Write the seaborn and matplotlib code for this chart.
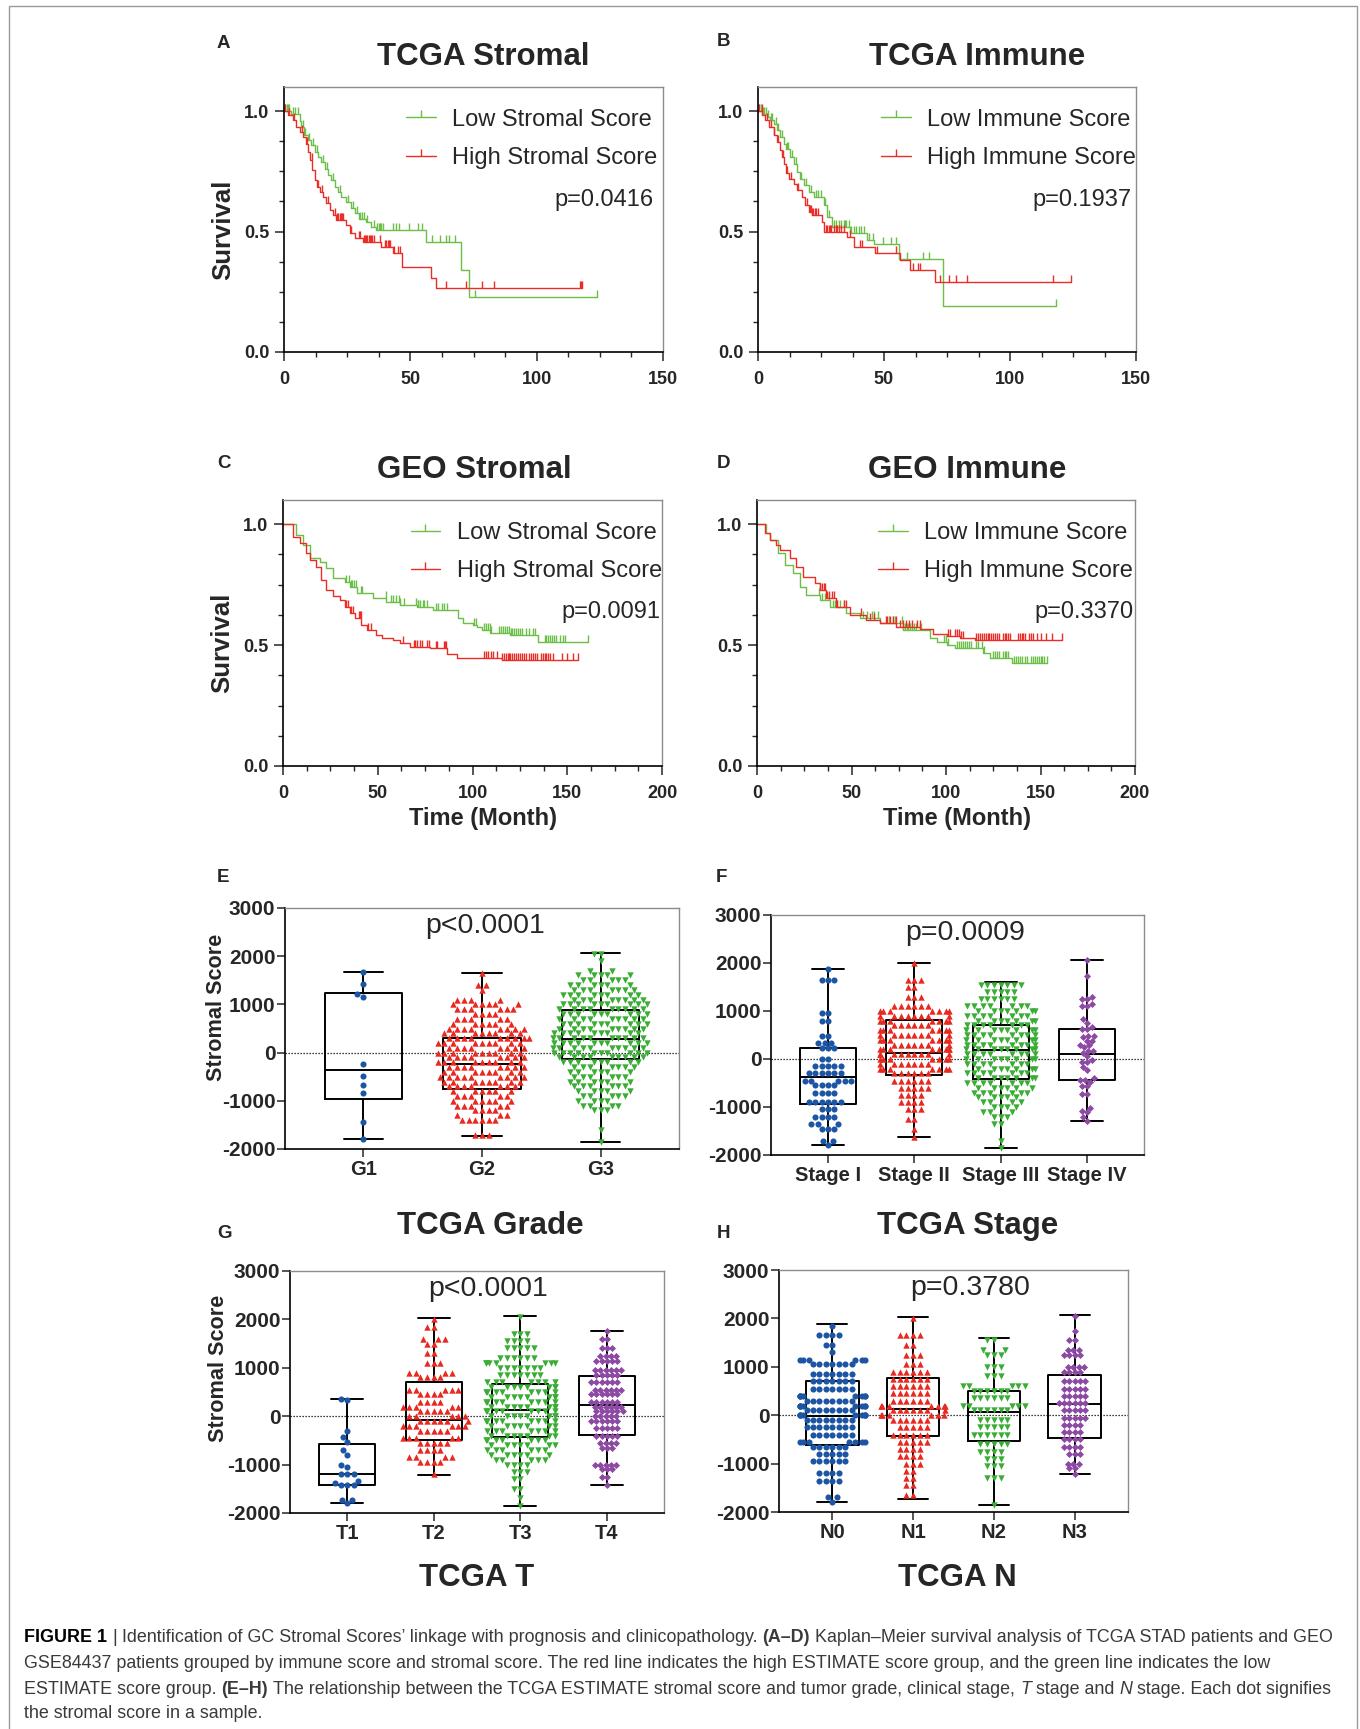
import warnings
import numpy as np
import matplotlib
matplotlib.use("Agg")
import matplotlib.pyplot as plt
import seaborn as sns
from matplotlib.lines import Line2D
from matplotlib.patches import Rectangle

warnings.filterwarnings("ignore")

# ---------------- Kaplan-Meier data ----------------
# panel A: TCGA stromal
a_low_t = [0, 2.9, 6.2, 6.9, 7.8, 9.5, 10.8, 12.1, 13.5, 14.8, 16.1, 17.4, 18.7, 20.1, 21.4, 22.7,
           24.7, 26.6, 28.0, 29.7, 32.6, 34.6, 36.5, 56.3, 70.2, 73.2]
a_low_s = [1.0, 0.99, 0.96, 0.934, 0.90, 0.879, 0.858, 0.83, 0.81, 0.789, 0.761, 0.734, 0.713, 0.686,
           0.665, 0.644, 0.623, 0.596, 0.575, 0.554, 0.541, 0.52, 0.506, 0.458, 0.341, 0.23]
a_low_end = 124
a_low_cens = [0.5, 1, 1.5, 2, 3.5, 4.5, 5.5, 7.5, 8.5, 10, 11.5, 13, 15.5, 17, 19.5, 22, 25.5, 27.5,
              29, 30, 31, 31.5, 33, 35.5, 37, 37.5, 38, 38.5, 39, 43.1, 44.4, 45.7, 49.6, 53, 54.7,
              58.7, 61.6, 64.2, 65.3, 67.5, 75.5, 124]
a_high_t = [0, 1.6, 3.6, 4.9, 6.2, 7.5, 8.8, 9.5, 10.2, 11.2, 12.1, 13.1, 14.1, 15.4, 16.8, 18.1,
            19.4, 20.7, 24.7, 26.0, 28.0, 31.3, 38.5, 43.1, 46.8, 58.0, 60.3]
a_high_s = [1.0, 0.982, 0.961, 0.934, 0.913, 0.892, 0.865, 0.83, 0.796, 0.754, 0.713, 0.686, 0.665,
            0.644, 0.617, 0.589, 0.568, 0.548, 0.527, 0.492, 0.472, 0.458, 0.437, 0.41, 0.352,
            0.306, 0.265]
a_high_end = 118.1
a_high_cens = [0.5, 2, 4, 7, 9, 11, 13.5, 15, 17.5, 20, 21, 21.5, 22, 22.5, 23, 23.5, 26.5, 29.5,
               30, 31.5, 32, 32.5, 33, 33.5, 34, 34.5, 35, 35.5, 38, 40, 40.5, 41, 41.5, 42, 43.5,
               45, 46, 64, 72.2, 78.2, 83, 117, 117.5, 118.1]

# panel B: TCGA immune
b_low_t = [0, 1.6, 3.6, 4.9, 6.2, 7.5, 8.9, 10.2, 11.2, 12.8, 14.1, 15.5, 16.8, 18.1, 20.1, 22.1,
           26.0, 27.4, 29.3, 36.6, 43.2, 45.9, 56.0, 73.3]
b_low_s = [1.0, 0.989, 0.975, 0.961, 0.948, 0.92, 0.892, 0.865, 0.844, 0.81, 0.782, 0.748, 0.72,
           0.692, 0.665, 0.644, 0.61, 0.561, 0.52, 0.492, 0.465, 0.448, 0.385, 0.192]
b_low_end = 118.3
b_low_cens = [0.5, 1, 2, 2.5, 3, 4, 5, 5.5, 7, 8, 9.5, 11.5, 12, 13.5, 15, 17, 19, 21, 23, 24, 25,
              26.5, 28, 30, 31, 32, 33, 34, 34.5, 35, 36, 37, 38, 39, 40, 41, 42, 44, 45.5, 49.6,
              52.9, 54.9, 59, 65.4, 67.7, 118.3]
b_high_t = [0, 1.6, 2.9, 4.2, 6.2, 7.5, 8.9, 9.5, 10.2, 11.2, 12.2, 14.1, 15.5, 17.4, 18.8, 20.1,
            21.4, 25.4, 26.3, 35.3, 37.9, 46.5, 56.4, 60.4, 70.3]
b_high_s = [1.0, 0.982, 0.961, 0.934, 0.899, 0.872, 0.837, 0.81, 0.782, 0.741, 0.72, 0.699, 0.672,
            0.644, 0.61, 0.582, 0.568, 0.54, 0.5, 0.479, 0.437, 0.412, 0.382, 0.341, 0.292]
b_high_end = 124.2
b_high_cens = [0.5, 1.5, 3.5, 5, 6.5, 8, 9.8, 11.5, 13, 16, 19.5, 20.5, 21, 21.5, 22, 22.5, 23, 24,
               26.8, 27.5, 28, 28.5, 29, 30, 31, 31.5, 32, 33, 34, 36.5, 40.6, 41.2, 47.2, 54.8,
               61.7, 63.3, 64.4, 72.3, 75.6, 78.4, 83.1, 117.2, 124.2]

# panel C: GEO stromal
c_low_t = [0, 7, 10.6, 14.1, 19.4, 22.9, 26.4, 32.6, 35.2, 38.8, 47.6, 54.6, 61.7, 70.5, 79.3, 92.5,
           95.2, 100.4, 102.2, 104.8, 109.3, 119.8, 134.8]
c_low_s = [1.0, 0.956, 0.914, 0.859, 0.845, 0.818, 0.776, 0.762, 0.742, 0.714, 0.693, 0.68, 0.666,
           0.659, 0.645, 0.61, 0.59, 0.583, 0.576, 0.562, 0.551, 0.541, 0.514]
c_low_end = 160.9
c_low_cens = [33.5, 35, 36, 36.5, 37.5, 38.5, 41, 41.5, 54.5, 57, 58, 59.5, 61, 62, 64, 70, 71, 71.5,
              72.5, 74, 74.5, 76, 81, 82, 84, 85, 86.5, 101, 102, 106, 107, 108, 109, 110, 114, 115,
              116, 117, 118, 119, 120.5, 121, 122, 123, 124, 125, 126, 128, 130, 132, 133, 138, 139,
              140, 141, 142, 143, 144, 146, 148, 149, 160.9]
c_high_t = [0, 5.3, 8.8, 12.3, 14.1, 17.6, 20.3, 22.9, 26.4, 30, 32.6, 35.2, 37.9, 41.4, 44.1, 49.3,
            52, 58.1, 61.7, 67, 77.5, 86.3, 91.6, 115.4]
c_high_s = [1.0, 0.949, 0.921, 0.88, 0.852, 0.824, 0.769, 0.728, 0.703, 0.686, 0.659, 0.634, 0.61,
            0.583, 0.562, 0.541, 0.528, 0.521, 0.507, 0.493, 0.486, 0.463, 0.448, 0.438]
c_high_end = 155.6
c_high_cens = [33.5, 34.5, 36, 37, 40, 40.5, 41, 45, 46.5, 63.5, 69, 69.5, 70.5, 72.5, 73.5, 76, 77,
               81, 81.5, 85, 85.5, 86, 106, 107, 108, 110, 111, 113, 115.5, 116.5, 117.5, 118.5,
               119, 120, 121, 122, 123, 124, 125, 126, 127, 128, 130, 131, 132, 133, 134, 136, 137,
               138, 139, 140, 141, 142.5, 147, 150, 153, 155.6]

# panel D: GEO immune
d_low_t = [0, 4.9, 6.7, 11.1, 14.7, 19.1, 22.6, 26.1, 33.2, 38.5, 47.3, 54.4, 65, 77.3, 91.4, 95,
           100.3, 104.7, 119.7, 123.2, 134.7]
d_low_s = [1.0, 0.963, 0.935, 0.88, 0.831, 0.797, 0.742, 0.707, 0.686, 0.659, 0.634, 0.61, 0.59,
           0.562, 0.528, 0.514, 0.5, 0.486, 0.468, 0.445, 0.424]
d_low_end = 153.2
d_low_cens = [33, 34.5, 36, 38, 40, 41.5, 42.5, 44, 46, 56, 58, 61, 62, 64, 70, 72, 73, 76.5, 77.5,
              78.5, 79.5, 80, 81, 82, 83, 84, 86, 87, 99, 100, 101, 106, 107, 108, 109, 110, 111,
              112, 113, 116, 117, 119, 120, 125, 126, 127, 128, 130, 131, 132, 133, 136, 137, 138,
              139, 140, 142, 143, 145, 146, 147, 148, 149, 150, 151, 152, 153.2]
d_high_t = [0, 4, 6.7, 10.2, 12, 17.3, 20.8, 24.4, 30.5, 33.2, 36.7, 42, 49.1, 57.9, 65, 73.8, 86.1,
            93.2, 100.3, 107.3, 115.3]
d_high_s = [1.0, 0.963, 0.935, 0.914, 0.894, 0.859, 0.824, 0.783, 0.755, 0.728, 0.693, 0.659, 0.624,
            0.603, 0.59, 0.576, 0.565, 0.546, 0.537, 0.528, 0.521]
d_high_end = 161.2
d_high_cens = [33.5, 34.5, 35.5, 36, 37, 38, 39.5, 41, 42.5, 46, 47, 55, 60, 62, 68, 69, 70.5, 72,
               73.5, 75.5, 77, 79, 80.5, 82, 84.5, 86, 101, 102, 105, 106, 107, 108, 109, 116, 117,
               118, 119, 120, 121, 122, 123, 124, 125, 126, 127, 128, 130, 131, 132, 133, 134, 138,
               139, 140, 141, 142, 144, 145, 146, 148, 150, 153, 156, 161.2]

# ---------------- stromal score scatter data ----------------
# box statistics: (min, q1, median, q3, max)
e_cats = ["G1", "G2", "G3"]
e_stats = [(-1793, -966, -359, 1241, 1676), (-1730, -759, -241, 297, 1660), (-1860, -138, 276, 883, 2070)]
f_cats = ["Stage I", "Stage II", "Stage III", "Stage IV"]
f_stats = [(-1790, -947, -372, 230, 1870), (-1620, -324, 133, 819, 2010),
           (-1860, -421, 195, 701, 1600), (-1300, -441, 112, 618, 2070)]
g_cats = ["T1", "T2", "T3", "T4"]
g_stats = [(-1800, -1429, -1195, -569, 350), (-1220, -501, -74, 710, 2020),
           (-1860, -432, 132, 675, 2070), (-1430, -384, 235, 840, 1750)]
h_cats = ["N0", "N1", "N2", "N3"]
h_stats = [(-1790, -607, -10, 703, 1880), (-1730, -428, 138, 772, 2020),
           (-1860, -531, 76, 503, 1590), (-1210, -462, 228, 828, 2070)]

# single points
g1_vals = [1680, 1430, 1210, 1160, -240, -480, -680, -840, -1450, -1790]
stage4_vals = [2070, 1725, 1290, 1255, 1255, 1140, 1100, 1100, 825, 755, 670, 620, 620, 485, 485, 460,
               380, 380, 290, 290, 250, 170, 170, 130, 65, -25, -60, -60, -165, -235, -405, -440, -440,
               -475, -560, -560, -720, -720, -1030, -1080, -1110, -1215, -1290]
t1_vals = [350, 330, -300, -430, -530, -700, -800, -1000, -1050, -1200, -1200, -1200, -1330, -1380,
           -1420, -1420, -1420, -1730, -1730, -1800]

# rows of points: score level and number of samples at that level
g2_levels = [1650, 1400, 1300, 1100, 1000, 900, 800, 700, 600, 500, 400, 300, 200, 100, 0, -100, -200,
             -300, -400, -500, -600, -700, -800, -900, -1000, -1100, -1200, -1300, -1400, -1700]
g2_counts = [1, 2, 1, 4, 6, 6, 4, 5, 6, 8, 8, 9, 9, 8, 9, 8, 9, 8, 8, 9, 8, 7, 6, 5, 6, 5, 4, 3, 6, 3]
g3_levels = [2050, 1900, 1700, 1600, 1500, 1400, 1300, 1200, 1100, 1000, 900, 800, 700, 600, 500, 400,
             300, 200, 100, 0, -100, -200, -300, -400, -500, -600, -700, -800, -900, -1000, -1100,
             -1200, -1600, -1850]
g3_counts = [2, 1, 2, 5, 5, 6, 7, 8, 8, 9, 9, 9, 9, 9, 9, 9, 10, 10, 10, 10, 9, 8, 7, 6, 6, 6, 6, 5,
             5, 4, 4, 3, 1, 1]
stage1_levels = [1870, 1650, 950, 800, 480, 330, 220, 0, -150, -300, -450, -550, -700, -900, -1050,
                 -1200, -1350, -1450, -1700, -1790]
stage1_counts = [1, 3, 2, 2, 2, 3, 3, 2, 5, 6, 5, 4, 4, 6, 3, 4, 3, 3, 2, 1]
stage2_levels = [2000, 1650, 1500, 1300, 1100, 1000, 900, 800, 700, 600, 500, 400, 300, 200, 100, 0,
                 -100, -200, -300, -450, -600, -750, -900, -1050, -1250, -1450, -1620]
stage2_counts = [1, 3, 2, 3, 6, 7, 8, 7, 6, 7, 8, 7, 7, 8, 9, 7, 7, 7, 6, 6, 5, 4, 4, 3, 2, 1, 1]
stage3_levels = [1550, 1400, 1250, 1100, 1000, 900, 800, 700, 600, 500, 400, 300, 200, 100, 0, -100,
                 -200, -300, -400, -500, -600, -700, -800, -900, -1000, -1100, -1200, -1350, -1700, -1860]
stage3_counts = [7, 5, 6, 7, 7, 7, 7, 7, 8, 8, 8, 8, 8, 8, 8, 7, 7, 7, 7, 7, 6, 6, 5, 4, 4, 3, 3, 2, 1, 1]
t2_levels = [2000, 1850, 1600, 1500, 1300, 1100, 900, 800, 550, 450, 300, 200, 100, 0, -100, -200,
             -300, -450, -550, -700, -850, -950, -1200]
t2_counts = [1, 2, 3, 2, 2, 3, 4, 4, 5, 4, 4, 5, 5, 5, 6, 6, 5, 5, 5, 4, 4, 4, 1]
t3_levels = [2050, 1700, 1550, 1400, 1200, 1100, 1000, 850, 700, 600, 500, 400, 300, 200, 100, 0, -100,
             -200, -300, -400, -500, -600, -700, -800, -900, -1000, -1150, -1300, -1500, -1700, -1860]
t3_counts = [1, 3, 4, 5, 6, 7, 7, 7, 7, 8, 8, 8, 8, 8, 8, 8, 8, 7, 7, 7, 7, 7, 6, 6, 5, 4, 3, 2, 2, 1, 1]
t4_levels = [1750, 1600, 1400, 1250, 1150, 950, 850, 700, 550, 450, 300, 200, 100, 0, -100, -250, -400,
             -550, -650, -1000, -1100, -1250, -1430]
t4_counts = [1, 2, 3, 4, 5, 6, 5, 6, 6, 6, 6, 6, 6, 5, 6, 5, 5, 4, 3, 5, 3, 2, 1]
n0_levels = [1850, 1650, 1450, 1300, 1150, 1050, 850, 700, 550, 400, 300, 200, 100, 0, -100, -250, -400,
             -550, -650, -800, -950, -1200, -1350, -1700, -1790]
n0_counts = [1, 4, 2, 1, 6, 7, 7, 7, 7, 8, 8, 8, 8, 9, 8, 8, 7, 7, 6, 5, 6, 4, 4, 2, 1]
n1_levels = [2000, 1650, 1450, 1250, 1050, 900, 750, 600, 450, 300, 200, 100, 0, -100, -250, -400, -550,
             -700, -850, -1000, -1150, -1300, -1450, -1650]
n1_counts = [1, 4, 2, 3, 3, 6, 6, 6, 6, 6, 7, 7, 6, 6, 5, 6, 5, 4, 4, 3, 2, 2, 2, 2]
n2_levels = [1550, 1350, 1250, 1000, 800, 600, 500, 350, 200, 100, -100, -250, -400, -600, -750, -900,
             -1050, -1300, -1860]
n2_counts = [2, 2, 3, 3, 3, 5, 6, 6, 5, 6, 5, 5, 6, 5, 4, 3, 3, 3, 1]
n3_levels = [2050, 1750, 1550, 1350, 1250, 1000, 900, 700, 550, 400, 250, 100, -50, -200, -350, -500,
             -650, -800, -1000, -1100, -1210]
n3_counts = [1, 1, 2, 3, 4, 4, 4, 5, 5, 5, 6, 5, 5, 4, 4, 4, 4, 3, 3, 2, 1]

KM_GREEN = "#6cbf46"
KM_RED = "#ea2d26"
DOT_COLORS = ["#1d55a5", "#e8291f", "#3bad37", "#8d4aa3"]
DOT_MARKERS = ["o", "^", "v", "D"]
DOT_SIZES = [4.4, 4.6, 4.6, 3.6]

W, H = 1360, 1729

sns.set_style("ticks")
plt.rcParams["font.family"] = ["Liberation Sans", "DejaVu Sans"]
plt.rcParams["axes.linewidth"] = 1.1
plt.rcParams["axes.unicode_minus"] = False

fig = plt.figure(figsize=(W / 100, H / 100), dpi=100)


def add_ax(l, t, r, b):
    return fig.add_axes([l / W, 1 - b / H, (r - l) / W, (b - t) / H])


def ftext(x, y, s, **kw):
    return fig.text(x / W, 1 - y / H, s, **kw)


def frame(ax):
    for side in ["left", "bottom"]:
        ax.spines[side].set_color("black")
        ax.spines[side].set_linewidth(1.2)
    for side in ["top", "right"]:
        ax.spines[side].set_visible(True)
        ax.spines[side].set_color("#8c8c8c")
        ax.spines[side].set_linewidth(1.0)
    ax.set_xlabel("")
    ax.set_ylabel("")


def km_curve(ax, t, s, t_end, cens, color):
    tt = np.append(t, t_end)
    ss = np.append(s, s[-1])
    sns.lineplot(x=tt, y=ss, drawstyle="steps-post", color=color, lw=1.0, ax=ax, estimator=None, sort=False)
    idx = np.searchsorted(t, cens, side="right") - 1
    ax.plot(cens, np.asarray(s)[idx], ls="none", marker=2, ms=5, mew=1.0, color=color)


def km_panel(ax, curves, labels, pval, xmax, leg_x, p_x, p_y):
    for (t, s, te, c), col in zip(curves, [KM_GREEN, KM_RED]):
        km_curve(ax, t, s, te, c, col)
    ax.set_xlim(0, xmax)
    ax.set_ylim(0, 1.1)
    ax.set_xticks(np.arange(0, xmax + 1, 50))
    ax.set_xticks(np.arange(0, xmax + 1, 12.5), minor=True)
    ax.set_yticks([0, 0.5, 1.0])
    ax.set_yticklabels(["0.0", "0.5", "1.0"])
    ax.set_yticks(np.arange(0, 1.01, 0.125), minor=True)
    ax.tick_params(which="major", length=6.5, width=1.1, labelsize=13, pad=4)
    ax.tick_params(axis="x", which="major", pad=7.5)
    ax.tick_params(which="minor", length=3.3, width=1.0)
    for lab in ax.get_xticklabels() + ax.get_yticklabels():
        lab.set_fontweight("bold")
    frame(ax)
    handles = [Line2D([0], [0], color=c, lw=1.0, marker=2, ms=5, mew=1.0) for c in [KM_GREEN, KM_RED]]
    ax.legend(handles, labels, loc="upper right", bbox_to_anchor=(leg_x, 0.918), frameon=False,
              fontsize=17, handlelength=1.25, handletextpad=0.7, labelspacing=0.68, borderpad=0,
              borderaxespad=0, numpoints=1)
    ax.text(p_x, p_y, pval, transform=ax.transAxes, ha="right", va="center", fontsize=17)


def box_panel(ax, cats, groups, stats, pval, p_x, capw):
    n = len(cats)
    for i, vals in enumerate(groups):
        sns.swarmplot(x=[cats[i]] * len(vals), y=vals, order=cats, color=DOT_COLORS[i],
                      marker=DOT_MARKERS[i], size=DOT_SIZES[i], linewidth=0, ax=ax, zorder=3)
    bstats = [dict(whislo=a, q1=b, med=c, q3=d, whishi=e, fliers=[]) for a, b, c, d, e in stats]
    lp = dict(color="black", lw=1.4)
    ax.bxp(bstats, positions=range(n), widths=0.65, capwidths=capw, showfliers=False,
           manage_ticks=False, boxprops=lp, whiskerprops=lp, capprops=lp, medianprops=lp, zorder=2)
    ax.axhline(0, color="black", ls=(0, (1, 1.4)), lw=0.9, zorder=1)
    ax.set_ylim(-2000, 3000)
    ax.set_yticks(range(-2000, 3001, 1000))
    ax.set_xlim(-0.66, n - 1 + 0.66)
    ax.set_xticks(range(n))
    ax.set_xticklabels(cats)
    ax.tick_params(axis="y", length=6, width=1.1, labelsize=15, pad=1)
    ax.tick_params(axis="x", length=6, width=1.1, labelsize=14.5, pad=2)
    for lab in ax.get_xticklabels() + ax.get_yticklabels():
        lab.set_fontweight("bold")
    frame(ax)
    ax.text(p_x, 0.925, pval, transform=ax.transAxes, ha="center", va="center", fontsize=20.5)


# ---------------- KM panels ----------------
ax_a = add_ax(284, 87, 663, 352)
km_panel(ax_a, [(a_low_t, a_low_s, a_low_end, a_low_cens), (a_high_t, a_high_s, a_high_end, a_high_cens)],
         ["Low Stromal Score", "High Stromal Score"], "p=0.0416", 150, 0.985, 0.974, 0.572)
ax_b = add_ax(758, 87, 1136, 352)
km_panel(ax_b, [(b_low_t, b_low_s, b_low_end, b_low_cens), (b_high_t, b_high_s, b_high_end, b_high_cens)],
         ["Low Immune Score", "High Immune Score"], "p=0.1937", 150, 1.0, 0.989, 0.572)
ax_c = add_ax(283, 500, 662, 766)
km_panel(ax_c, [(c_low_t, c_low_s, c_low_end, c_low_cens), (c_high_t, c_high_s, c_high_end, c_high_cens)],
         ["Low Stromal Score", "High Stromal Score"], "p=0.0091", 200, 1.0, 0.995, 0.578)
ax_d = add_ax(757, 500, 1135, 766)
km_panel(ax_d, [(d_low_t, d_low_s, d_low_end, d_low_cens), (d_high_t, d_high_s, d_high_end, d_high_cens)],
         ["Low Immune Score", "High Immune Score"], "p=0.3370", 200, 0.995, 0.995, 0.578)

# ---------------- scatter / box panels ----------------
g2_vals = np.repeat(g2_levels, g2_counts)
g3_vals = np.repeat(g3_levels, g3_counts)
ax_e = add_ax(285, 908, 679, 1149)
box_panel(ax_e, e_cats, [g1_vals, g2_vals, g3_vals], e_stats, "p<0.0001", 0.508, 0.33)

ax_f = add_ax(771, 915, 1144, 1155)
box_panel(ax_f, f_cats, [np.repeat(stage1_levels, stage1_counts), np.repeat(stage2_levels, stage2_counts),
                         np.repeat(stage3_levels, stage3_counts), stage4_vals], f_stats, "p=0.0009", 0.52, 0.37)

ax_g = add_ax(290, 1271, 664, 1513)
box_panel(ax_g, g_cats, [t1_vals, np.repeat(t2_levels, t2_counts), np.repeat(t3_levels, t3_counts),
                         np.repeat(t4_levels, t4_counts)], g_stats, "p<0.0001", 0.529, 0.37)

ax_h = add_ax(779, 1270, 1128, 1512)
box_panel(ax_h, h_cats, [np.repeat(n0_levels, n0_counts), np.repeat(n1_levels, n1_counts),
                         np.repeat(n2_levels, n2_counts), np.repeat(n3_levels, n3_counts)],
          h_stats, "p=0.3780", 0.547, 0.37)

# ---------------- titles, labels ----------------
tkw = dict(fontsize=22.5, fontweight="bold", ha="center", va="center")
ftext(483, 57, "TCGA Stromal", **tkw)
ftext(977, 57, "TCGA Immune", **tkw)
ftext(474, 470, "GEO Stromal", **tkw)
ftext(967, 470, "GEO Immune", **tkw)
ftext(490, 1226, "TCGA Grade", **tkw)
ftext(968, 1226, "TCGA Stage", **tkw)
ftext(477, 1578, "TCGA T", **tkw)
ftext(957, 1578, "TCGA N", **tkw)

lkw = dict(fontsize=13.5, fontweight="bold", ha="center", va="center")
for letter, x, y in [("A", 223, 43), ("B", 723, 42), ("C", 224, 463), ("D", 723, 463),
                     ("E", 223, 878), ("F", 721, 878), ("G", 224, 1233), ("H", 723, 1233)]:
    ftext(x, y, letter, **lkw)

ftext(223, 230, "Survival", fontsize=18.5, fontweight="bold", rotation=90, ha="center", va="center")
ftext(222, 643, "Survival", fontsize=18.5, fontweight="bold", rotation=90, ha="center", va="center")
ftext(216, 1007, "Stromal Score", fontsize=15.6, fontweight="bold", rotation=90, ha="center", va="center")
ftext(218, 1368, "Stromal Score", fontsize=15.6, fontweight="bold", rotation=90, ha="center", va="center")
ftext(483, 818, "Time (Month)", fontsize=17, fontweight="bold", ha="center", va="center")
ftext(957, 818, "Time (Month)", fontsize=17, fontweight="bold", ha="center", va="center")

# ---------------- caption ----------------
cap_family = ["Liberation Sans Narrow", "Liberation Sans", "DejaVu Sans"]
cap_size = 12.9
renderer = fig.canvas.get_renderer()


def run_width(s, **kw):
    t = fig.text(0, 0, s, fontsize=cap_size, family=cap_family, **kw)
    w = t.get_window_extent(renderer=renderer).width
    t.remove()
    return w


space_w = run_width("x x") - run_width("xx")


def caption_line(y, runs):
    x = 24
    for s, weight, style, color in runs:
        t = ftext(x, y, s, fontsize=cap_size, family=cap_family, fontweight=weight, style=style,
                  color=color, va="center", ha="left")
        x += t.get_window_extent(renderer=renderer).width + space_w


CAP = "#3a3a3a"
caption_line(1638, [("FIGURE 1", "bold", "normal", "black"), ("|", "normal", "normal", CAP),
                    ("Identification of GC Stromal Scores’ linkage with prognosis and clinicopathology.",
                     "normal", "normal", CAP),
                    ("(A–D)", "bold", "normal", CAP),
                    ("Kaplan–Meier survival analysis of TCGA STAD patients and GEO", "normal", "normal", CAP)])
caption_line(1663, [("GSE84437 patients grouped by immune score and stromal score. The red line indicates the "
                     "high ESTIMATE score group, and the green line indicates the low", "normal", "normal", CAP)])
caption_line(1689, [("ESTIMATE score group.", "normal", "normal", CAP), ("(E–H)", "bold", "normal", CAP),
                    ("The relationship between the TCGA ESTIMATE stromal score and tumor grade, clinical stage,",
                     "normal", "normal", CAP),
                    ("T", "normal", "italic", CAP), ("stage and", "normal", "normal", CAP),
                    ("N", "normal", "italic", CAP),
                    ("stage. Each dot signifies", "normal", "normal", CAP)])
caption_line(1714, [("the stromal score in a sample.", "normal", "normal", CAP)])

fig.patches.append(Rectangle((9 / W, -0.01), (1357 - 9) / W, 1 - 6 / H + 0.01, transform=fig.transFigure,
                             fill=False, edgecolor="#9a9a9a", lw=1.0))

fig.savefig("out.png", dpi=100)
